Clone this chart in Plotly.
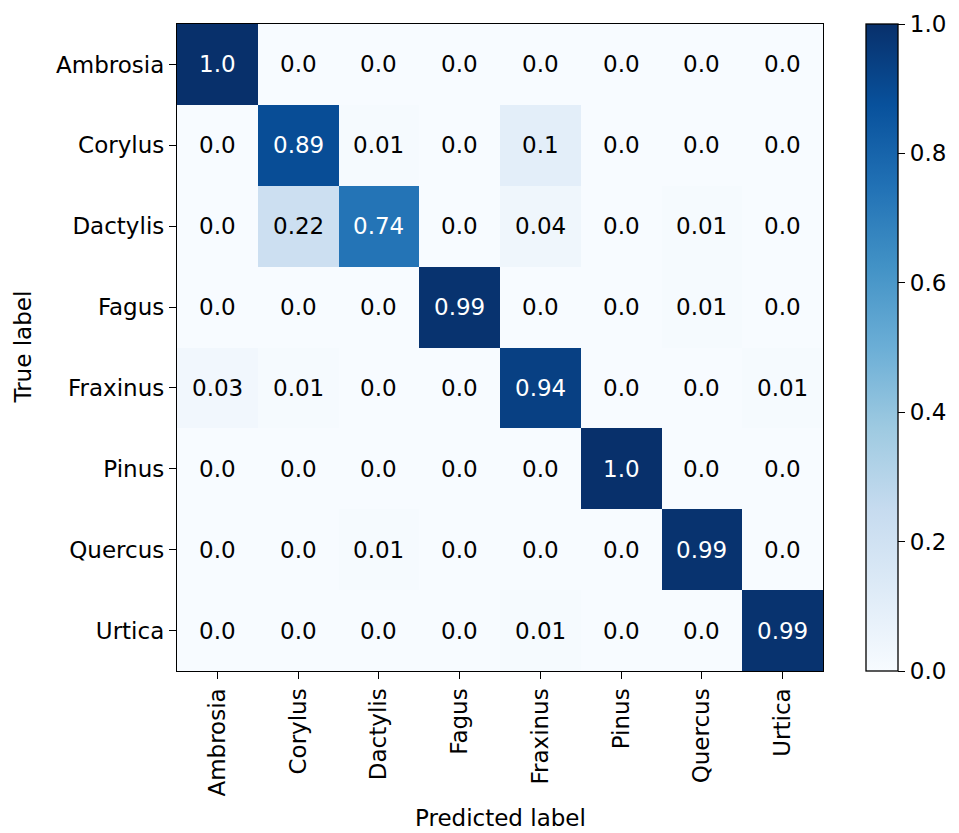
import plotly.graph_objects as go

labels = ["Ambrosia", "Corylus", "Dactylis", "Fagus", "Fraxinus", "Pinus", "Quercus", "Urtica"]

row_ambrosia = [1.0, 0.0, 0.0, 0.0, 0.0, 0.0, 0.0, 0.0]
row_corylus = [0.0, 0.89, 0.01, 0.0, 0.1, 0.0, 0.0, 0.0]
row_dactylis = [0.0, 0.22, 0.74, 0.0, 0.04, 0.0, 0.01, 0.0]
row_fagus = [0.0, 0.0, 0.0, 0.99, 0.0, 0.0, 0.01, 0.0]
row_fraxinus = [0.03, 0.01, 0.0, 0.0, 0.94, 0.0, 0.0, 0.01]
row_pinus = [0.0, 0.0, 0.0, 0.0, 0.0, 1.0, 0.0, 0.0]
row_quercus = [0.0, 0.0, 0.01, 0.0, 0.0, 0.0, 0.99, 0.0]
row_urtica = [0.0, 0.0, 0.0, 0.0, 0.01, 0.0, 0.0, 0.99]

z = [row_ambrosia, row_corylus, row_dactylis, row_fagus,
     row_fraxinus, row_pinus, row_quercus, row_urtica]

colorbar_ticks = [0.0, 0.2, 0.4, 0.6, 0.8, 1.0]

blues = ["#f7fbff", "#deebf7", "#c6dbef", "#9ecae1", "#6baed6",
         "#4292c6", "#2171b5", "#08519c", "#08306b"]
colorscale = [[i / (len(blues) - 1), c] for i, c in enumerate(blues)]

FONT = "DejaVu Sans"
FS = 23

fig = go.Figure(go.Heatmap(
    z=z, x=labels, y=labels, zmin=0, zmax=1,
    colorscale=colorscale, xgap=0, ygap=0,
    hoverinfo="skip",
    colorbar=dict(
        x=1.066, xref="paper", xanchor="left",
        y=0.5, yref="paper", yanchor="middle", len=1, lenmode="fraction",
        thickness=32, xpad=0, ypad=0,
        outlinecolor="black", outlinewidth=1.3,
        tickvals=colorbar_ticks,
        ticktext=[f"{t:.1f}" for t in colorbar_ticks],
        ticks="outside", ticklen=7, tickcolor="black", tickwidth=1.3,
        tickfont=dict(family=FONT, size=FS, color="black"),
    ),
))

annotations = []
for i, row in enumerate(z):
    for j, v in enumerate(row):
        annotations.append(dict(
            x=labels[j], y=labels[i], text=str(round(v, 2)),
            showarrow=False,
            font=dict(family=FONT, size=FS, color="white" if v > 0.5 else "black"),
        ))

annotations.append(dict(
    text="Predicted label", xref="paper", yref="paper", x=0.5, y=0,
    xanchor="center", yanchor="middle", yshift=-147, showarrow=False,
    font=dict(family=FONT, size=FS, color="black"),
))
annotations.append(dict(
    text="True label", xref="paper", yref="paper", x=0, y=0.5,
    xanchor="center", yanchor="middle", xshift=-155, textangle=-90, showarrow=False,
    font=dict(family=FONT, size=FS, color="black"),
))

fig.update_layout(
    width=951, height=825,
    margin=dict(l=169, r=134, t=16, b=162),
    paper_bgcolor="white", plot_bgcolor="white",
    font=dict(family=FONT, size=FS, color="black"),
    annotations=annotations,
    xaxis=dict(
        tickangle=-90, ticks="outside", ticklen=7, tickcolor="black", tickwidth=1.3,
        showline=True, linecolor="black", linewidth=1.3, mirror=True,
        showgrid=False, zeroline=False, automargin=False,
        tickfont=dict(family=FONT, size=FS),
    ),
    yaxis=dict(
        autorange="reversed", ticks="outside", ticklen=7, tickcolor="black", tickwidth=1.3,
        showline=True, linecolor="black", linewidth=1.3, mirror=True,
        showgrid=False, zeroline=False, automargin=False,
        tickfont=dict(family=FONT, size=FS),
    ),
)

fig.write_html("out.html")
